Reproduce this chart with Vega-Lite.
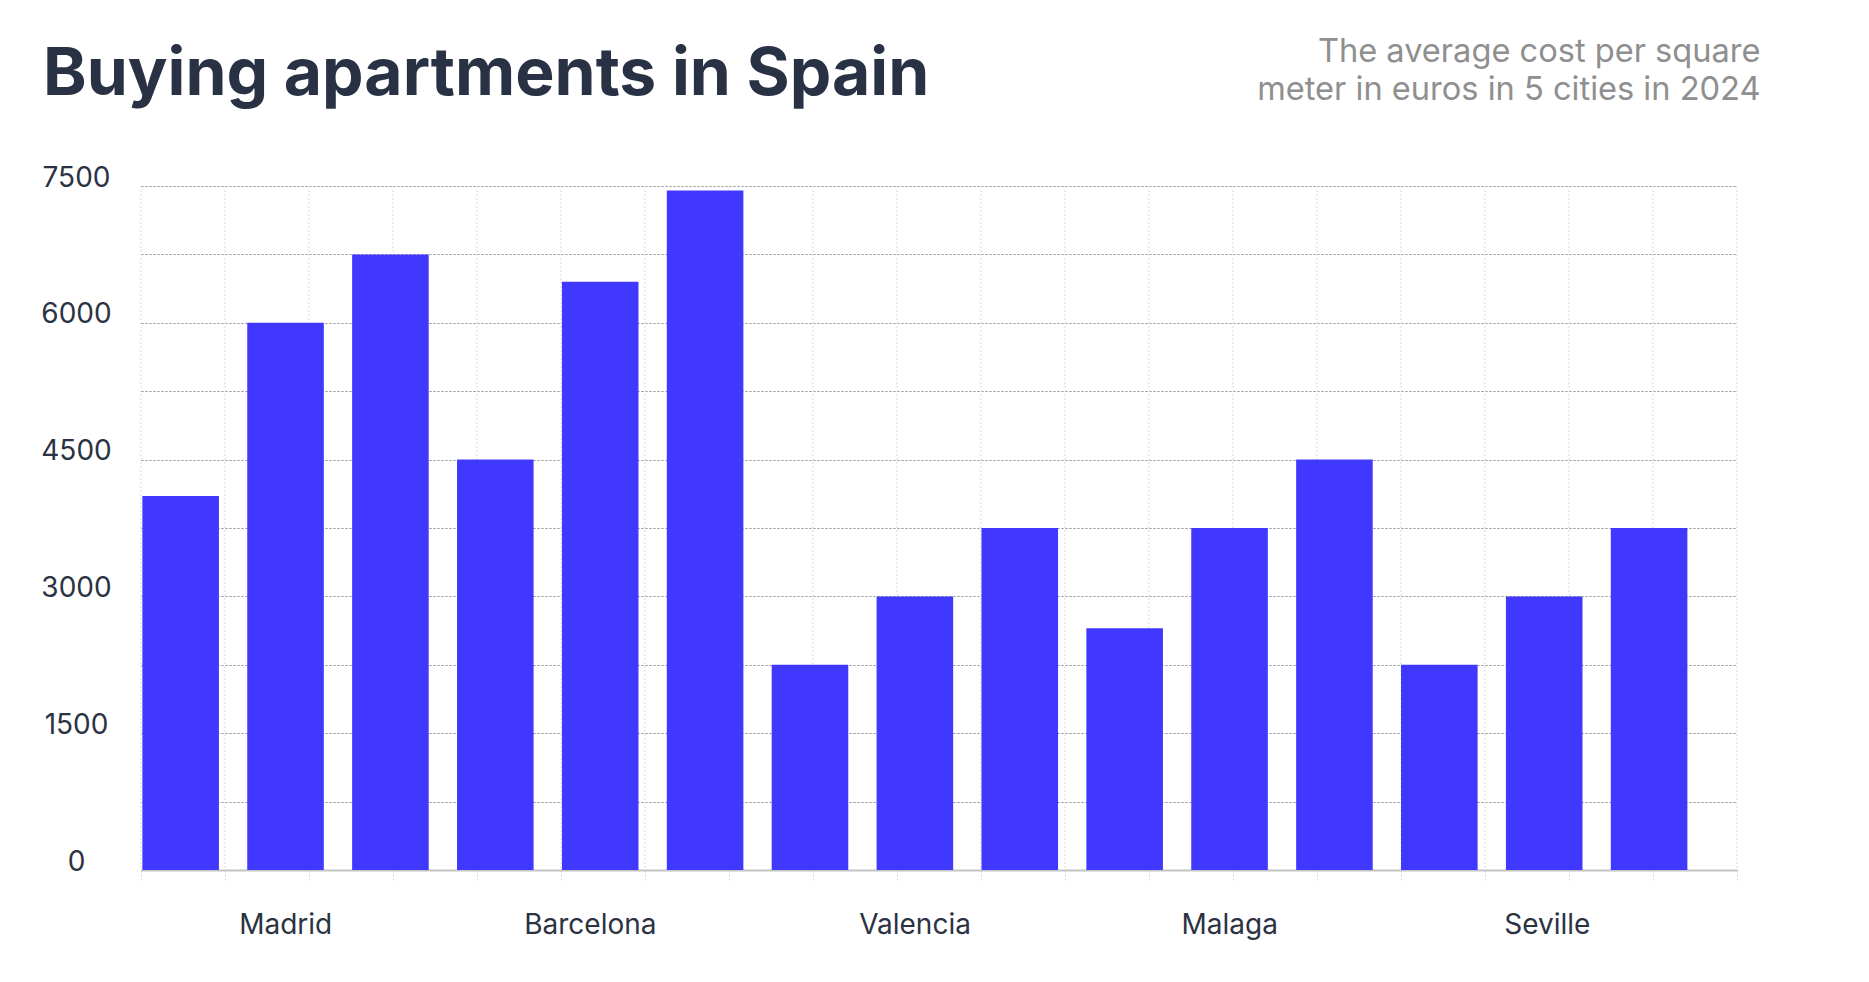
{
  "$schema": "https://vega.github.io/schema/vega-lite/v6.json",
  "autosize": {"type": "none"},
  "width": 1596,
  "height": 684,
  "padding": {"left": 141, "top": 186, "right": 132, "bottom": 112},
  "background": "white",
  "title": {
    "text": "Buying apartments in Spain",
    "anchor": "start",
    "frame": "group",
    "baseline": "alphabetic",
    "dx": -98,
    "dy": 58,
    "offset": -68,
    "font": "Inter",
    "fontSize": 66,
    "fontWeight": 700,
    "color": "#283244"
  },
  "config": {
    "view": {"stroke": null},
    "font": "Inter"
  },
  "resolve": {"scale": {"x": "independent"}, "axis": {"x": "independent"}},
  "layer": [
    {
      "data": {
        "values": [
          {"g": 0}, {"g": 1}, {"g": 2}, {"g": 3}, {"g": 4},
          {"g": 5}, {"g": 6}, {"g": 7}, {"g": 8}, {"g": 9},
          {"g": 10}, {"g": 11}, {"g": 12}, {"g": 13}, {"g": 14},
          {"g": 15}, {"g": 16}, {"g": 17}, {"g": 18}, {"g": 19}
        ]
      },
      "mark": {"type": "rule", "color": "#dcdcdc", "strokeWidth": 1, "strokeDash": [2, 2]},
      "encoding": {
        "x": {
          "field": "g",
          "type": "quantitative",
          "scale": {"domain": [0, 19], "nice": false, "zero": false},
          "axis": {
            "orient": "bottom",
            "title": null,
            "values": [0, 1, 2, 3, 4, 5, 6, 7, 8, 9, 10, 11, 12, 13, 14, 15, 16, 17, 18, 19],
            "labels": false,
            "grid": false,
            "ticks": true,
            "tickSize": 10,
            "tickDash": [2, 2],
            "tickColor": "#d5d5d5",
            "domain": true,
            "domainColor": "#c4c4c4",
            "domainWidth": 2
          }
        }
      }
    },
    {
      "data": {
        "values": [
          {"city": "Madrid", "band": "low", "price": 4100},
          {"city": "Madrid", "band": "mid", "price": 6000},
          {"city": "Madrid", "band": "high", "price": 6750},
          {"city": "Barcelona", "band": "low", "price": 4500},
          {"city": "Barcelona", "band": "mid", "price": 6450},
          {"city": "Barcelona", "band": "high", "price": 7450},
          {"city": "Valencia", "band": "low", "price": 2250},
          {"city": "Valencia", "band": "mid", "price": 3000},
          {"city": "Valencia", "band": "high", "price": 3750},
          {"city": "Malaga", "band": "low", "price": 2650},
          {"city": "Malaga", "band": "mid", "price": 3750},
          {"city": "Malaga", "band": "high", "price": 4500},
          {"city": "Seville", "band": "low", "price": 2250},
          {"city": "Seville", "band": "mid", "price": 3000},
          {"city": "Seville", "band": "high", "price": 3750}
        ]
      },
      "mark": {"type": "bar", "color": "#4038ff"},
      "encoding": {
        "x": {
          "field": "city",
          "type": "nominal",
          "sort": ["Madrid", "Barcelona", "Valencia", "Malaga", "Seville"],
          "scale": {"paddingInner": 0, "paddingOuter": 0.036, "align": 0.06},
          "axis": {
            "orient": "bottom",
            "title": null,
            "labelAngle": 0,
            "labelFont": "Inter",
            "labelFontSize": 28,
            "labelColor": "#2b3242",
            "labelBaseline": "alphabetic",
            "labelPadding": 63,
            "labelOffset": {
              "condition": [
                {"test": "datum.value === 'Barcelona'", "value": -24},
                {"test": "datum.value === 'Seville'", "value": -11}
              ],
              "value": -14
            },
            "ticks": false,
            "domain": false,
            "grid": false
          }
        },
        "xOffset": {
          "field": "band",
          "type": "nominal",
          "sort": ["low", "mid", "high"],
          "scale": {"paddingInner": 0.27, "paddingOuter": 0.135, "align": 0}
        },
        "y": {
          "field": "price",
          "type": "quantitative",
          "scale": {"domain": [0, 7500], "nice": false},
          "axis": {
            "values": [0, 750, 1500, 2250, 3000, 3750, 4500, 5250, 6000, 6750, 7500],
            "format": "d",
            "labelExpr": "datum.value % 1500 === 0 ? datum.label : ''",
            "labelOverlap": false,
            "labelFont": "Inter",
            "labelFontSize": 28,
            "labelColor": "#2b3242",
            "labelAlign": "center",
            "labelBaseline": "alphabetic",
            "labelPadding": 65,
            "ticks": false,
            "domain": false,
            "grid": true,
            "gridColor": "#8c8c8c",
            "gridDash": [2, 2],
            "gridWidth": 1,
            "title": ["The average cost per square", "meter in euros in 5 cities in 2024"],
            "titleAngle": 0,
            "titleAlign": "right",
            "titleBaseline": "alphabetic",
            "titleX": 1619,
            "titleY": -125,
            "titleFont": "Inter",
            "titleFontSize": 32.6,
            "titleFontWeight": 400,
            "titleColor": "#8f8f8f",
            "titleLineHeight": 38
          }
        }
      }
    }
  ]
}
